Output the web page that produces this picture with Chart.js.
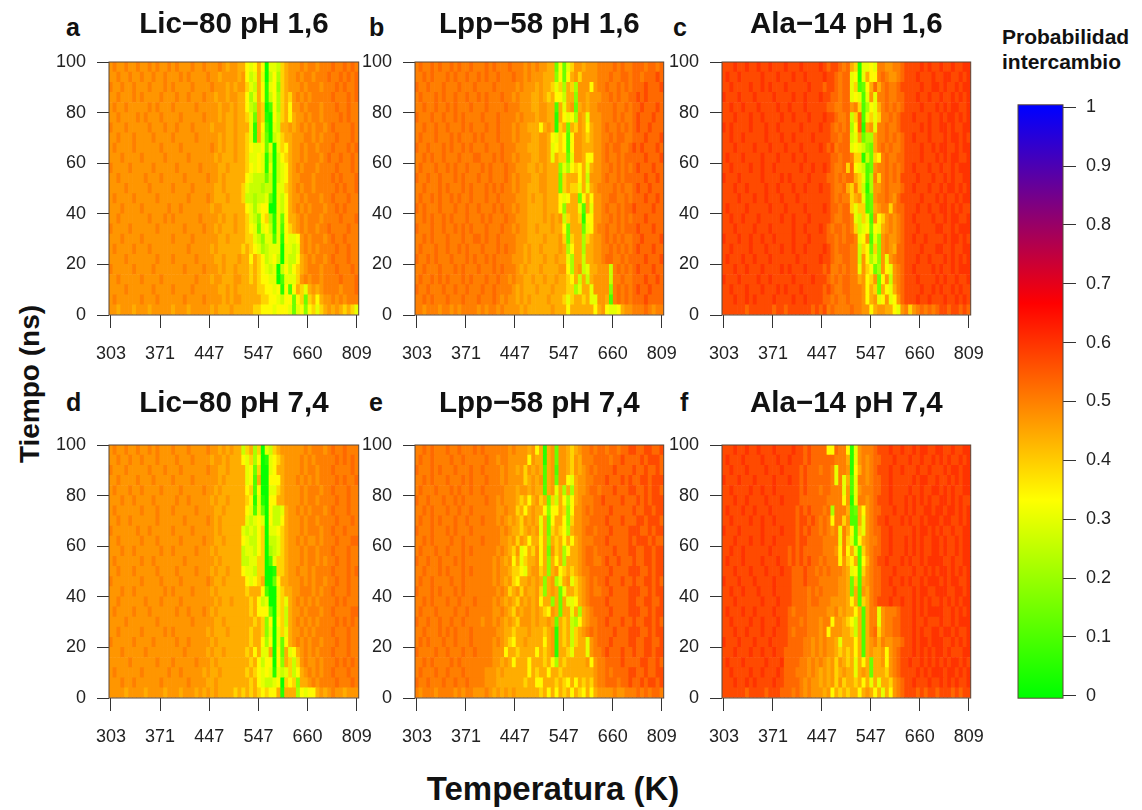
<!DOCTYPE html>
<html lang="es"><head><meta charset="utf-8">
<script src="https://cdn.jsdelivr.net/npm/chart.js@4"></script>
<style>
html,body{margin:0;padding:0;background:#fff;width:1142px;height:810px;overflow:hidden;font-family:"Liberation Sans",Arial,sans-serif;color:#111}
canvas{position:absolute}
.t{position:absolute;font-weight:bold;white-space:nowrap;line-height:1}
</style></head><body>
<div class="t" style="left:66px;top:15px;font-size:25px">a</div>
<div class="t" style="left:369px;top:15px;font-size:25px">b</div>
<div class="t" style="left:673px;top:15px;font-size:25px">c</div>
<div class="t" style="left:66px;top:390px;font-size:25px">d</div>
<div class="t" style="left:369px;top:390px;font-size:25px">e</div>
<div class="t" style="left:680px;top:390px;font-size:25px">f</div>
<div class="t" style="left:-50px;top:370px;width:160px;text-align:center;font-size:28px;transform:rotate(-90deg)">Tiempo (ns)</div>
<div class="t" style="left:403px;top:772px;width:300px;text-align:center;font-size:33px">Temperatura (K)</div>
<div class="t" style="left:1002px;top:24px;font-size:21px;line-height:25px">Probabilidad<br>intercambio</div>
<script>
const tempLabels = ['303','371','447','547','660','809'];
const tempTickColumns = [0,12.6,25.2,37.8,50.4,63];
const timeTicks = [0,20,40,60,80,100];
const colorbarTicks = [0,0.1,0.2,0.3,0.4,0.5,0.6,0.7,0.8,0.9,1];
const colorStops = [0,1/3,2/3,1];
const colorRgb = [[0,255,0],[255,255,0],[255,0,0],[0,0,255]];
const titles = ['Lic\u221280 pH 1,6','Lpp\u221258 pH 1,6','Ala\u221214 pH 1,6','Lic\u221280 pH 7,4','Lpp\u221258 pH 7,4','Ala\u221214 pH 7,4'];
/* each panel: 25 rows (top row = 96-100 ns) x 64 columns; one hex digit per cell, index into probLevels */
const probLevels = [0.01,0.05,0.1,0.14,0.18,0.22,0.26,0.3,0.34,0.39,0.44,0.47,0.5,0.53,0.57,0.6];
const rowSpan = 4;
const panelA = [
"bcbbcbbc bbcbcbbc bcbbbcbb cbbbcbab baa878a8 07769abb bcbccbcc cdccdcdc",
"bbcbbcbb cbbcbbcb bbcbcbbb bcbbabbb bab867a7 06859abb cbccbccc dccdcdcd",
"cbbcbbcb bbcbbbcb cbbbbcbb bbcbbbab abb976a8 17849abb bcbcccbc ccdcdccd",
"bbcbbbcb cbbbbcbb bcbbcbbb cbbabbab baa857a8 16859a9b cbcbcccc cdcccdcd",
"bcbbcbbb bbcbcbbb cbbbbbcb bbbbabba baa865a9 02859a8b bcbcccbc ccdccdcc",
"bbcbbbbc bcbbbcbb bbcbbbbb cbbbabaa baa973a9 10869a8a bbcbccbc cccdcdcc",
"cbbbcbbb bbcbbbcb bcbbbcbb bbabbbaa baaa71a8 2076aaba bcbcbccb cdccccdc",
"bbcbbbcb bbbcbbbb cbbbbbcb bbbbabaa baa971a7 30679aab bbccbcbc ccdcccdc",
"bcbbbbcb bbbbbcbb bbcbbbbb bbcbabaa baa98778 370798ab bcbccbcc cdcccdcd",
"bbbcbbbb cbbbbbcb bbbbcbbb bbbabaaa baa97787 160689ab bcbcccbc dccdccdc",
"cbbbbcbb bbbcbbbb bcbbbbbc bbbbaaba aaa98787 170678ab cbcccbcc ccdcccdc",
"bbcbbbbb bcbbbcbb bbbcbbbb bcbbabaa aaa87666 360678ab bcccbccc cdcdcccd",
"bbbbcbbb bbcbbbbb cbbbbcbb bbbaabaa aa976665 660779ab cbccbccc ccdcdccd",
"bcbbbbcb bbbbcbbb bbbbcbbb bcbaaaba aa966566 730768ab bcbcccbc cdcccdcc",
"bbbcbbbb cbbbbbbc bbcbbbbb bbabbaaa aaa87578 800768ab cbcbcccb ccdcdccc",
"bbcbbbbb bbcbbbcb cbbbbbbc bbbbabaa baa97648 951738aa bcbcccbc cccdcccd",
"cbbbbcbb bbbbcbbb bbbcbbbb cbbabaaa baa98737 8617289a bcbccbcc dccccdcc",
"bbbcbbbb cbbbbbbb cbbbbcbb bbbbaaba aaa99764 77271877 8bcbcccb cdccdccc",
"bcbbbbcb bbcbbbbb bbbbcbbb bbabaaaa aa9a9875 67770776 7bcbcbcc ccdccdcc",
"bbbbcbbb bbbbcbbb cbbbbbcb bbbaabaa abaa8a98 67860766 8abcbccb cdcccdcc",
"cbbbbbcb bbbcbbbb bbbcbbbb cbbbabaa baaa9a98 76706868 9abcccbc ccdcccdc",
"bbcbbbbb cbbbbcbb bbbbbbcb bbabbaaa bbaa9a98 87702777 9bcbccbc cccdcccd",
"bbbbcbbb bbbcbbbb cbbbbcbb bbbbaaba baaaaa99 88781828 a97ababc cccbcccd",
"bcbbbbbb cbbbcbbb bbbcbbbb cbbbbaba bbaaaaa9 98876883 8939a8ab bcbcbccc",
"bbabbbab bbabbbbb abbbabbb bbabaaab aaaaa998 88788873 7848979a baba9a97"];
const panelB = [
"cdccdcdc cdcdccdc ccdcdccc dcccbcbc bbaa3837 9bbabbbc cccdcdcc dddcddcd",
"ccdcdccc dcdccdcc dcdccdcc cdccbcbb baaa4838 ab9bbbbc ccdccddc ddcddded",
"dccdcccd cccdcccd ccccdccc ccbcbbba baa9795a 95bbb8bc cdccdcdc dddeddde",
"cdcccdcd ccdccdcc dcdcccdc cbcbbbaa ba9a886a a4bbabbb ccdcdccd dededddd",
"ccdccdcc dcdcccdc ccdccccd cccbbbaa bbaa2a7a b3ababbc cccdccdc ddeddded",
"dcccdccd ccdcdccc cdcccdcc ccbcbbba bbaa1a87 85ba7bbb cccdcdcc dedddedd",
"ccdccdcc dcccdcdc ccdccdcc cbcbbaaa 8aba19a3 a9ba8abb cdccdcdc deddeddd",
"cdcccdcc cdcdcccd cdcccdcc cbcbbbaa bba87982 8bba9abb ccdcddcc dddeddde",
"dccdcccd cdccdcdc ccdcccdc ccbbbaaa bba78982 8bbaaabb cdcddccd ededdded",
"ccdcdccd cccdcccd dcccdcdc cbcbbbaa bba7a993 7bba88bb cdccdcdd dddeddde",
"cdcccdcc dcdccdcc cdcdcccd ccbbbaab abaaa475 898a7abb ccdcdcdc dedddedd",
"dccdccdc ccdcdccc dccdcccd cbcbbbaa bbaaa39a aa8a6bbb cdccdcdd dddedded",
"ccdcccdc dcccdcdc ccdcdcdc cbcbbaaa bbaaa39a 997a7abc cccdcdcc deddeddd",
"cdccdcdc cdcdccdc ccdccdcc ccbbbaba abaaa878 aa38a8bb ccddccdc dddedded",
"dcdcccdc ccdccdcc dcccdcdc cbcbbaaa abaaa84a aa72a7bb cdccdcdd eddddedd",
"ccdcdccd cdcccdcc cdcdcccd ccbbbaaa ababab69 aa9188bb ccdcdcdc dddedddd",
"dcccdccd ccdcdcdc ccdcccdc cbcbbaab aaabaa83 aaa378bc cdccdcdd dedddedd",
"ccdcdccc dcccdccd dcdccdcc ccbbbaaa abaaab93 9aa59abb cdcdcdcc ddedddde",
"cdcccdcc dccdcdcc cdcccdcd ccbbabaa baaaaba5 8aa5aabb ccdcdcdc dedddedd",
"dccdcdcc cdcccdcd ccdcdccc cbbbabaa abaabaa7 5aa6aabb cddccdcd dddeddde",
"ccdcccdc ccdcdccc dcccdcdc ccbabaaa baaaabb8 5ab67aab bb6cdcdc dedddedd",
"cdccdcdc dcccdcdc ccdccdcc bcbbaaba abaabaa9 8a6a6abb bb6ccdcc dddedded",
"dccdcccd ccdccdcc cdccdccc cbabaaab aaabaaa9 957aa7bb bb4cdcdc deddeddd",
"ccdcdccc dcccdccc dcccdcbc bbababaa aabaaa97 9aa9a77b ba2cdcdc dddedddd",
"ccbcccbc cbcbcccc bcbccbcb bbbabaaa aaabaaa8 aaaaaa8a b8778abb cccdcbcc"];
const panelC = [
"eeefeefe efeefeee feeefeee efedeedc da917787 ccbbccde eeefefee feefeeff",
"efeefeee eefeeefe eefeefee eefeedcd d7817a88 cdcbbcde eefeeefe effeefef",
"eefeeeef eefefeee feeeeefe eedeedcd d79238ad acdccdee eeefeeff efeefeff",
"feeefeee feeeefee eefeefee efeeddcd d78727b7 ccdccdde eefeefee feefefef",
"eefeefee efeeeefe efeeefee eeeddccd dbc92587 acdcdcde eeefeeef efeffeef",
"eeefeeef eefeeeef eefeeefe eefeedcc d69d2797 9ccdcdee efeeefee feffefef",
"fefeeeef eeefeefe eeeefeee efeedcdc d58d1ab7 ccdccdee eeefefee ffefeeff",
"eefeefee eeefeeef eefeeeef eeeeddcd d67a355a ccdcdcde efeeefee efeffefe",
"eeefeeee feeefeee feeefeee efedecdd d787643a cdcdccde eeefeefe ffeefeff",
"efeeefee eefeeefe eefeefee eeeeddcd dc991639 8cdccdde eeefeeef efeffeef",
"eefeeeef eefeefee eeeefeef eefedccd 9d87623b ccdcdcde efeeefee feefefff",
"feeefeee eefeeeef efeeeefe eeeddcdc dda9725c 9cdcdcee eefeeefe efefeeff",
"eeefeefe eeefeefe eefeefee efeedccd a9c9615b bcdcccde efeeefee feffefef",
"eeeefeee feefeeef eeefeeee eeeedcdc c9ab723b ccdcbdee eeefeeef efeefeff",
"efeeeefe eeeefeee feeeefee eefeddcd d979923a bcc9cdde eefeefee ffefefee",
"eefeefee efeeeeef eefeeefe eeeedccd dc76972b 89bcbcde efeeeefe efeffeef",
"eeefeeee feeefeee eefeefee efedcddc dc967838 7abcbcde eefeeeef feefefff",
"feeefeef eefeefee eefeeefe eeeddcdc ddc78b27 4bcbbcde efeefeee efeffefe",
"eefeeeef eeefeeef eefeefee eefedcdd dcc69839 4bcbadde eeefeeef feefeeff",
"efeeefee feeefeee eeefeeee efeedccd dcc6b857 4b7bcdde eefeefee efefefef",
"eeefeefe eefeeeef efeeefee eedeccdc dcc7b983 5b87bcde efeeeefe feefefff",
"feeefeee efeefeee eefeeeef eeedcdcd dccab89b 38b6bcde eefeeeef efeefeef",
"eefeeefe eefeeefe feeefeee eededccd dcccb8a9 3a87acde eeefeefe feefefee",
"eeefeefe feeeefee eefeefee eeddcdcc dcccb8ab 78b78bde eefeefee efeefefe",
"eeeeeede eeeeedee deeeeeed edecdccc cdccbb8a bbaa87bc 9bcdcdcd eedeeded"];
const panelD = [
"bcbbcbbc bbcbcbbb cbbbcbbb bcbbabab aa69a590 769abbbb bbcbcccb cdccdccc",
"bbcbbcbb cbbbcbbb bcbbbcbb bbabbaba aa879580 1789abbb bcbcbccc ccdcdcdc",
"cbbbcbbb bbcbbbcb bbcbbbbb bcbbaaba aaa78390 078aabbb bcbccbcc cdccccdc",
"bbcbbbbc bbbcbbbb cbbbbcbb bbbbabaa aaa782a0 0888abbb cbcbcbcc ccdcdccd",
"bcbbbcbb cbbbbcbb bbcbbbbb cbbabaaa aaa89280 0779abbb bcbcccbc cdcccdcc",
"bbbcbbcb bbbcbbbb bcbbcbbb bbabaaba aaa98171 088aabbb bcbccbcc ccdccdcc",
"bcbbbbbb cbbbcbbb cbbbbbcb bbbaabaa aaa87273 08667abb cbcbcccb cdcccdcc",
"bbcbbcbb bbbbcbbb bbbcbbbb bcbabaaa aaa76787 08668abb bcbccbcc ccdcccdc",
"cbbbbbbc bbcbbbbb cbbbbcbb bbbabaaa aa767689 07789abb bcbcccbc cdccdccc",
"bbcbbbbb cbbbcbbb bbcbbbbb cbbaabaa aa876689 06679abb cbcbbcbc ccdcccdd",
"bbbcbbcb bbbbbcbb cbbbbbcb bbabaaaa aa677689 05679abb bcbccbcc cdcccdcc",
"bcbbbbbb cbbcbbbb bbbcbbbb bbbabaaa aa667799 02799abb bcbccbcb ccdccdcc",
"bbcbbbcb bbbbcbbb bcbbbbcb bbabaaba aa877699 00199abb cbbcbccc cdcccdcd",
"cbbbbbbb cbbbbcbb bbcbbbbb bcbaabaa aaa8789a 0038aabb bcbcbccb ccdccdcc",
"bbbcbbcb bbbbbbcb cbbbbcbb bbabaaaa aaa9aaa8 20079aab bcccbcbc cdcccdcc",
"bbcbbbbb bcbbbcbb bbcbbbbb bbbabaab aaaa9a86 700797ab cbcbcbcc ccdcdccc",
"bcbbbbcb bbcbbbbb bcbbcbbb cbabaaaa aaaa9a88 830796ab bcbcccbc cdccccdd",
"bbbbcbbb bbbbcbbb bbbbbcbb bbbaabaa aaaaa9a9 480896ab cbcbcbcc ccdcdcdc",
"bbcbbbbb cbbbbbcb cbbbbbbb babaaaba aaaa9aa9 470797ab bcbcbccc cdcccdcc",
"cbbbbbcb bbbcbbbb bcbbcbbb bbabaaaa aaaa9aa8 580738ab cbcbccbc ccdccdcc",
"bbbcbbbb bcbbbbbb bbbcbbbb babaabaa aaa9a8a7 7a083a78 abcbcbcc cdcccdcc",
"bbbbbcbb bbbbcbbb cbbbbbcb bbabaaaa aaaa9a86 88084a96 9bcbbcbc ccdcdcdc",
"bcbbbbbb cbbbbbbc bbcbbbbb abaabaaa aaa9a987 87176796 8abcbcbc cdcccdcc",
"bbbcbbcb bbbbbcbb bbbbcbbb baabaaaa aaaa9a87 66780989 4aabcbcc ccdcccdc",
"bbbbabbb babbbbab bbabbbab ababaaaa 9a9a9a98 988a1aaa 58788aba bcbbabbb"];
const panelE = [
"ccdcdccc dccdcccd cdcccccc bcbbbab8 a1ab3bba 9abccdcd dcddcdde eddeedde",
"cdccdccc cdccdccc ccdccbcc bbbbb8ba a1ab3bba 9bacccdd ddcddedd ddedeeed",
"dcccdcdc ccdcccdc cdccccbc bbab9bab a2ab2bba 9babcdcd dddedddd eddedded",
"ccdcdccc dcccdcdc ccdcccbc bbbb9aba b2ab3bb8 7abbccdd dedddede ddeedeee",
"cdcccdcc cdcdccdc cdcccccb bbabbaba a2ab7a5a 5abbcddc dddeddde eddedeed",
"dccdcccd ccdcdccc ccdccbcb bba9a8ab 9a396a85 8abcccdd eddddedd dededeee",
"ccdcdccc dccdccdc cccccbbc bb9a8aba a8488a94 8bbcdcdd ddeddddd eddeedee",
"cdccdcdc ccdccdcc cdcccbcb aba9baba 7a38aa84 9bbccddd dedddedd deedeeed",
"dcccdccc dcdcccdc ccccccbc baa9abab 7a39a985 abbcddcd ddedddde eeddedee",
"ccdcdccc cdccdccc cdccccbb ab9ba8aa 8a4a9a8a 8abcccdd deddddde deeededd",
"cdcccdcc dcccdcdc cccccbcb a9b78a9b 8a3b9a58 aabcddcd dddeddde eddeedee",
"dccdccdc ccdcdccc ccccbcba b8a79aab 8a4a8a5a aabcddcc deddeddd eddeedee",
"ccdcccdc dcccdcdc ccccbcbb a9987abb 9a4ab89a 9abccddd ddedddde eeddedee",
"cdccdccc cdccdccc ccccbcba b98aabab a4ab57ab 79abcdcd dedddedd eddeeded",
"dcccdcdc ccdcdccc cccccbcb 9ab9baab 94aba37a a9abcdcc ddedddde eeddedee",
"ccdcdccc dccdcccd ccccbcba ba9babab 8aa4a3a7 78abcddd deddddde eddeedde",
"cdcccdcc ccdccdcc ccccbbcb a9babbab a98ba3aa 7a5abcdd ddedddde eeddedee",
"dccdccdc cdccdccc cbccbcba ba9bbbab aaba3a9a 658abccd dedddedd eddeeded",
"ccdcccdc dcdcccdc cccccbba a9aaabaa a9ab1a9a 69abcdcd dddeddde eeddedee",
"cdcdcccd ccdcccdc ccccbcba 98aabaaa a8ab1a9a 69aa7bcd ddedddde eddeedde",
"dccccdcc dcccdccd ccccbbb8 aa9aaaa8 a9ab1aa9 7aaa7bcc dedddedd eddeedee",
"ccdcdccc cdcdcccc ccccbbab a8aaa8aa a9a85a9a aaaab8bc cddddedd ddeedded",
"cdcccdcc dcccdccc ccbbbaba aaaaa8a9 aa8aa9aa aaaaaabc cdcdddde eddeddee",
"dccdcccd ccdccdcc ccbbbaaa aaaa9aa8 8aaa9a98 a8a9a9bc cdddcdde ddedeede",
"cbcccbcc ccbcbccb bbcbabab abaaaaaa 9a8a8a9a 8a98a8ab bbbcbbcc cdcdcddc"];
const panelF = [
"eeefeefe efeeefee eefeeded ddd88dcc 817bcccd eeefeefe efeffeef feefeeff",
"efeeefee eefeeefe efeeeded dddddccc a17bcbcd deeefeee feefeefe fefeefef",
"eefeeefe eeefeeef eeeededd dcddc7cc b18acbcd eeefeefe eefeefee efeffeff",
"feeefeee feeeefee efeededd ddddc7c7 a27ccbcd deefeeee efeffeef eefefeff",
"eefeeeef eefeefee eeeededd dcddccc7 b27bcccd deefeeee feefeeff efefeeff",
"eeefeefe eeefeeef eeeedddd dddcccc8 b17ccbcd eeefeeef efefefee ffefefee",
"efeeefee feeefeee eeededed ddcd5ccc a23a8bcd deeefeef efeeffef feffefef",
"eefeeeef eefeefee eeedeede dcdc8cc9 b22a7bcd eefeeefe feefefff effeefef",
"feeefeee eefeeeef eeededed dcdcbc7c a8297bcd deefeeee efeffefe feefeeff",
"eeefeeef eefeefee eeedeedd ddcccc7c 9728abcc deefeeef efefeeff efeefeff",
"eefeefee eeeefeee edededdd ddcccb8c 8a729bcd deefeeef efefeeff efeefeff",
"efeeefee eefeeefe edededed dcdccc8b 98a28acd eefeeefe feefefff feefeeff",
"eeefeeef eeefeeef eedddedd cdcdcccb a7829bcd deeefeee efeefefe ffefefef",
"feeefeee feeeefee eedddedd dcccccbb a392abcd deefeefe feefefff efeffeef",
"eefeefee efeeefee eeddddcd cdccccbb a3a2bacd deeefeee efeffeef ffeeffef",
"eeefeeee eefeeefe eeddddcd dcccbbbb a8a29acd eeefeefe efefefee fefefeff",
"efeeefee feeeefee edcdddcc cccbbcab aa8a2acc 7bcccdee efefefff feefefef",
"eefeeeef eefeeefe edddcdcc cbcc8bba 986a2acc 7bccddee efeefeee feefefff",
"eeefeefe eefeefee edcdddcc cbc8bbba a96a2acd 9bccddee efefeeff effefeef",
"feeefeee feeefeee eddddccb cbcbba7a aa8a2abc acbbccde efeffeff feefefef",
"eeefeeef eefeefee dddddccb cbcbba9a 9a8a2aba ab8bcdee efefefef fefeeeff",
"efeeefee eeefeeef ddddccbc bcbab9ba 9a7a8a3a ab8bcdee feefefef efeffefe",
"eefeeeef eefeeefe dddcccbc babab9ab aa7aba3a aa9bcdee eefefeff feffefef",
"eeefeefe feeeefee ddddcbcb babab9b9 aa9a8a7a 7aa9bcde efeeefee fefefeef",
"eeeeeede eeedeeed ddcdcbcb bbab8a9a 9aa8aba8 a7a8bcde eededeed eeededee"];
const panels=[panelA,panelB,panelC,panelD,panelE,panelF];
const plotLefts=[109,415,722];
const rowTops=[62,445];

function colorFor(v){
  let i=0; while(i<colorStops.length-2 && v>colorStops[i+1]) i++;
  const f=Math.min(1,Math.max(0,(v-colorStops[i])/(colorStops[i+1]-colorStops[i])));
  const c=colorRgb[i].map((a,k)=>Math.round(a+(colorRgb[i+1][k]-a)*f));
  return `rgb(${c[0]},${c[1]},${c[2]})`;
}
function cells(rows){
  const out=[];
  rows.forEach((r,i)=>{
    const s=r.replace(/ /g,'');
    for(let c=0;c<64;c++) out.push({x:c,y:[100-rowSpan*(i+1),100-rowSpan*i],v:probLevels[parseInt(s[c],16)]});
  });
  return out;
}
const frame={id:'frame',afterDatasetsDraw(ch){const {left,top,width,height}=ch.chartArea;const x=ch.ctx;x.save();x.strokeStyle='#5b4636';x.lineWidth=1;x.strokeRect(left,top,width,height);x.restore();}};
Chart.defaults.font.family='"Liberation Sans",Arial,sans-serif';
Chart.defaults.color='#222';
function mk(left,top,w,h){const c=document.createElement('canvas');c.width=w;c.height=h;c.style.left=left+'px';c.style.top=top+'px';c.style.width=w+'px';c.style.height=h+'px';document.body.appendChild(c);return c;}
panels.forEach((rows,p)=>{
  const col=p%3,row=Math.floor(p/3);
  const plotW=col===0?250:249, plotH=253;
  const cv=mk(plotLefts[col]-60,rowTops[row]-62,plotW+60+28,62+plotH+50);
  const tTop=row===0?7.5:3.5;
  new Chart(cv,{type:'bar',plugins:[frame],
    data:{datasets:[{data:cells(rows),backgroundColor:c=>c.raw?colorFor(c.raw.v):'#000',borderWidth:0,barPercentage:1,categoryPercentage:1}]},
    options:{responsive:false,animation:false,events:[],
      layout:{padding:{left:0,right:28,top:0,bottom:0}},
      plugins:{legend:{display:false},tooltip:{enabled:false},
        title:{display:true,text:titles[p],fullSize:false,color:'#111',font:{size:29.5,weight:'bold',lineHeight:1.2},padding:{top:tTop,bottom:62-35.4-tTop}}},
      scales:{
        x:{type:'linear',min:-0.5,max:63.5,offset:false,
          afterBuildTicks:s=>{s.ticks=tempTickColumns.map(v=>({value:v}));},
          afterFit:s=>{s.height=50;},
          grid:{offset:false,drawOnChartArea:false,tickLength:13,color:'#333'},border:{display:false},
          ticks:{autoSkip:false,maxRotation:0,padding:15,font:{size:18},color:'#222',callback:(v,i)=>tempLabels[i]}},
        y:{type:'linear',min:0,max:100,
          afterBuildTicks:s=>{s.ticks=timeTicks.map(v=>({value:v}));},
          afterFit:s=>{s.width=60;},
          grid:{drawOnChartArea:false,tickLength:12,color:'#333'},border:{display:false},
          ticks:{padding:11,font:{size:18},color:'#222'}}
      }}});
});
/* colour bar */
const cb=mk(1000,84,142,635);
new Chart(cb,{type:'bar',plugins:[frame],
  data:{labels:['p'],datasets:[{data:[[-0.004,1.004]],barPercentage:1,categoryPercentage:1,borderWidth:0,
    backgroundColor:c=>{const a=c.chart.chartArea;if(!a)return '#000';const y=c.chart.scales.y;const g=c.chart.ctx.createLinearGradient(0,y.getPixelForValue(0),0,y.getPixelForValue(1));colorStops.forEach(s=>g.addColorStop(s,colorFor(s)));return g;}}]},
  options:{responsive:false,animation:false,events:[],
    layout:{padding:{left:18,right:0,top:14,bottom:20}},
    plugins:{legend:{display:false},tooltip:{enabled:false}},
    scales:{x:{display:false},
      y:{position:'right',min:-0.004,max:1.004,
        afterBuildTicks:s=>{s.ticks=colorbarTicks.map(v=>({value:v}));},
        afterFit:s=>{s.width=79;},
        grid:{drawOnChartArea:false,tickLength:13,color:'#333'},border:{display:false},
        ticks:{padding:10,font:{size:18},color:'#222',callback:v=>String(v)}}}}});
</script>
</body></html>
